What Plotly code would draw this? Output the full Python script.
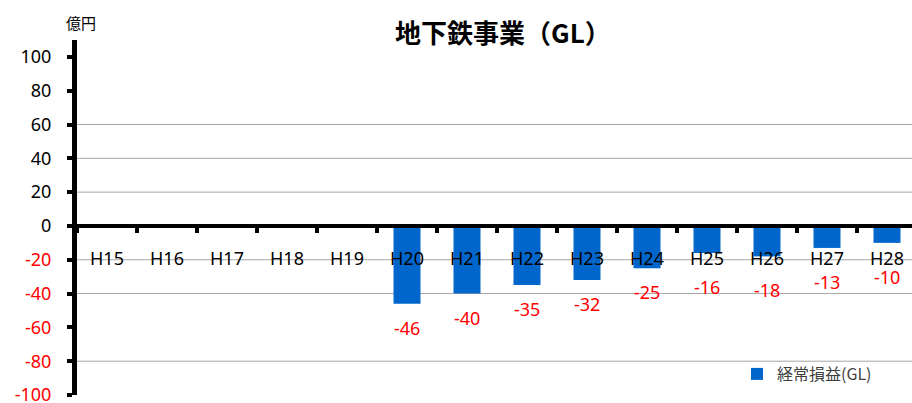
import plotly.graph_objects as go

categories = ["H15", "H16", "H17", "H18", "H19", "H20", "H21", "H22", "H23", "H24", "H25", "H26", "H27", "H28"]
values = [None, None, None, None, None, -46, -40, -35, -32, -25, -16, -18, -13, -10]
series_name = "経常損益(GL)"
title_text = "地下鉄事業（GL）"
unit_text = "億円"
y_ticks = [100, 80, 60, 40, 20, 0, -20, -40, -60, -80, -100]
grid_values = [60, 40, 20, -20, -40, -80]

BLUE = "#0066CC"
RED = "#FF0000"
FONT = "Noto Sans, Open Sans, sans-serif"
CJK = "Noto Sans CJK JP, Noto Sans, sans-serif"

def tick_label(v):
    if v < 0:
        return f'<span style="color:{RED}">{v}</span>'
    return str(v)

fig = go.Figure()
fig.add_trace(go.Bar(
    x=categories, y=values, name=series_name,
    marker=dict(color=BLUE, line=dict(width=0)),
    width=0.45,
    showlegend=True,
))

Y_MIN, Y_MAX = -100, 110
W, H = 912, 403
L, R, T, B = 77, 0, 40, 8
PH = H - T - B
x_end = -0.5 + (W - L - R) / 60.0

shapes = [dict(type="line", xref="paper", x0=0, x1=1, yref="y", y0=g, y1=g,
               line=dict(color="#A6A6A6", width=1), layer="below") for g in grid_values]

annotations = [
    dict(text=title_text, xref="paper", yref="paper", x=(502.5 - L) / (W - L), y=1 + (T - 31) / PH,
         xanchor="center", yanchor="middle", showarrow=False,
         font=dict(size=26, family=CJK, color="black", weight="bold")),
    dict(text=unit_text, xref="paper", yref="paper", x=(81 - L) / (W - L), y=1 + (T - 22) / PH,
         xanchor="center", yanchor="middle", showarrow=False,
         font=dict(size=15, family=CJK, color="black")),
]
# data labels under the bar ends; short bars have their label pushed below the category labels
for c, v in zip(categories, values):
    if v is None:
        continue
    annotations.append(dict(
        text=str(v), x=c, y=v, xref="x", yref="y",
        xanchor="center", yanchor="middle", showarrow=False,
        yshift=-(24 if abs(v) >= 20 else 34),
        font=dict(size=18, family=FONT, color=RED),
    ))

fig.update_layout(
    width=W, height=H,
    margin=dict(l=L, r=R, t=T, b=B, autoexpand=False),
    paper_bgcolor="white", plot_bgcolor="white",
    font=dict(family=FONT, color="black"),
    showlegend=True,
    legend=dict(x=(737 - L) / (W - L), y=(H - B - 374) / PH, xanchor="left", yanchor="middle",
                font=dict(size=16, family=CJK, color="#404040"),
                bgcolor="rgba(0,0,0,0)", itemwidth=30, tracegroupgap=0),
    shapes=shapes,
    annotations=annotations,
)

fig.update_xaxes(
    type="category", range=[-0.5, x_end], automargin=False,
    anchor="free", position=(0 - Y_MIN) / (Y_MAX - Y_MIN),
    showline=True, linecolor="black", linewidth=4,
    ticks="outside", tickson="boundaries", ticklen=5, tickwidth=4, tickcolor="black",
    tickfont=dict(size=18, color="black", family=FONT),
    ticklabelstandoff=15,
    showgrid=False, zeroline=False,
)
fig.update_yaxes(
    range=[Y_MIN, Y_MAX], automargin=False,
    tickvals=y_ticks, ticktext=[tick_label(v) for v in y_ticks],
    showline=True, linecolor="black", linewidth=5,
    ticks="outside", ticklen=5, tickwidth=4, tickcolor="black",
    tickfont=dict(size=18, color="black", family=FONT),
    ticklabelstandoff=12, ticklabeloverflow="allow",
    showgrid=False, zeroline=False,
)

fig.write_html("out.html", config={"displayModeBar": False},
               post_script="document.body.style.margin='0px';document.body.style.overflow='hidden';")
